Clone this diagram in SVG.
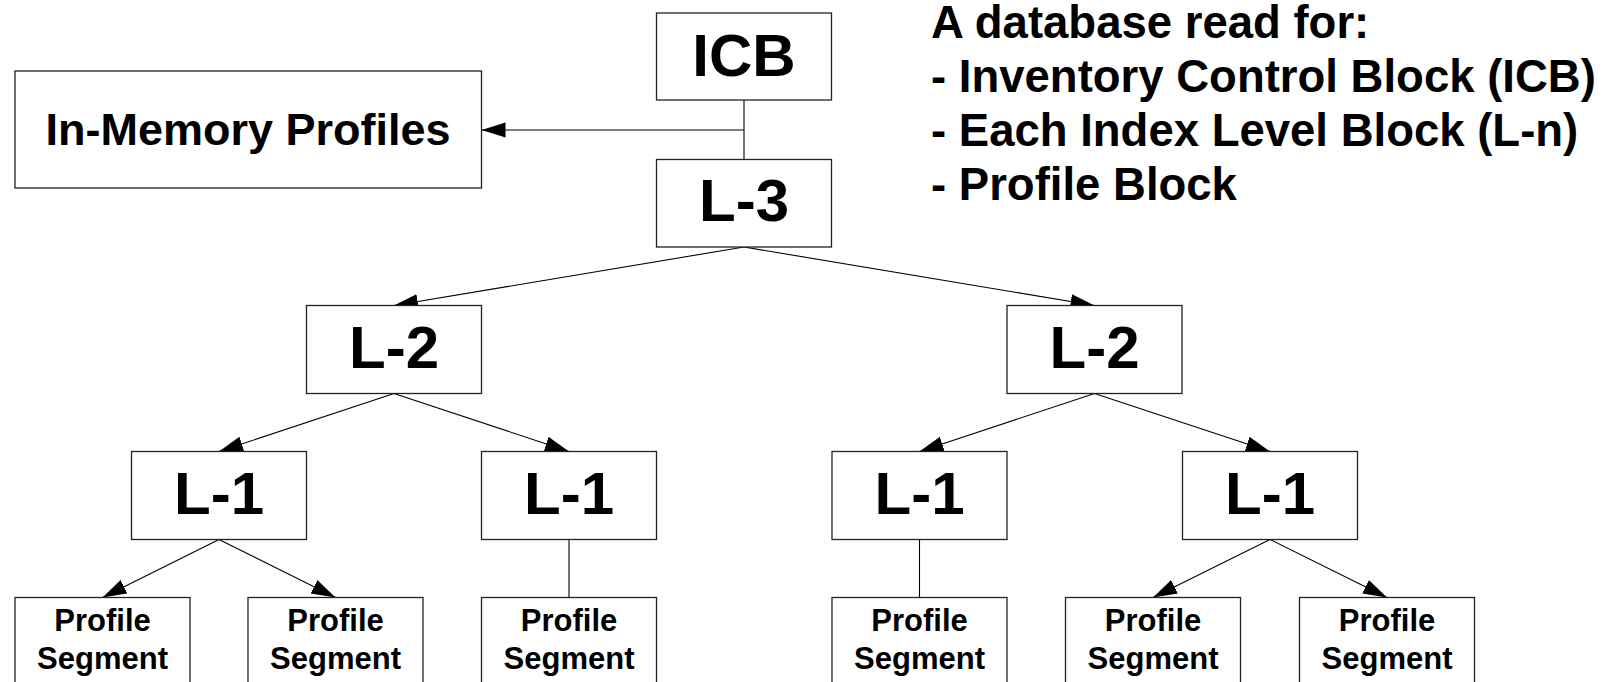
<svg xmlns="http://www.w3.org/2000/svg" width="1606" height="682" viewBox="0 0 1606 682">
<style>
.box{fill:#fff;stroke:#222;stroke-width:1.3}
.t{font-family:"Liberation Sans",Arial,sans-serif;font-weight:bold;fill:#000;text-anchor:middle}
.big{font-size:60px}
.mid{font-size:45px}
.small{font-size:31px}
.note{font-family:"Liberation Sans",Arial,sans-serif;font-weight:bold;font-size:45.5px;fill:#000}
.c{fill:none;stroke:#000;stroke-width:1.1}
.a{marker-end:url(#arr)}
</style>
<defs>
<marker id="arr" markerUnits="userSpaceOnUse" markerWidth="25" markerHeight="16" refX="24" refY="7.5" orient="auto">
<path d="M0,0 L24,7.5 L0,15 Z" fill="#000"/>
</marker>
</defs>
<rect width="1606" height="682" fill="#fff"/>
<g id="connectors">
<path class="c" d="M744,100 V159.5"/>
<path class="c a" d="M744,130 H481.5"/>
<path class="c a" d="M744,247 L394,305.5"/>
<path class="c a" d="M744,247 L1094.5,305.5"/>
<path class="c a" d="M394,393.5 L219,451.5"/>
<path class="c a" d="M394,393.5 L569,451.5"/>
<path class="c a" d="M1094.5,393.5 L919.5,451.5"/>
<path class="c a" d="M1094.5,393.5 L1270,451.5"/>
<path class="c a" d="M219,539.5 L102.5,597.5"/>
<path class="c a" d="M219,539.5 L335.5,597.5"/>
<path class="c" d="M569,539.5 V597.5"/>
<path class="c" d="M919.5,539.5 V597.5"/>
<path class="c a" d="M1270,539.5 L1153,597.5"/>
<path class="c a" d="M1270,539.5 L1387,597.5"/>
</g>
<g id="icb"><rect class="box" x="656.5" y="13" width="175" height="87"/><text class="t big" x="744" y="75.5">ICB</text></g>
<g id="inmem"><rect class="box" x="15" y="71" width="466.5" height="117"/><text class="t mid" x="248" y="145">In-Memory Profiles</text></g>
<g id="l3"><rect class="box" x="656.5" y="159.5" width="175" height="87.5"/><text class="t big" x="744" y="221">L-3</text></g>
<g id="l2a"><rect class="box" x="306.5" y="305.5" width="175" height="88"/><text class="t big" x="394" y="368">L-2</text></g>
<g id="l2b"><rect class="box" x="1007" y="305.5" width="175" height="88"/><text class="t big" x="1094.5" y="368">L-2</text></g>
<g id="l1a"><rect class="box" x="131.5" y="451.5" width="175" height="88"/><text class="t big" x="219" y="514">L-1</text></g>
<g id="l1b"><rect class="box" x="481.5" y="451.5" width="175" height="88"/><text class="t big" x="569" y="514">L-1</text></g>
<g id="l1c"><rect class="box" x="832" y="451.5" width="175" height="88"/><text class="t big" x="919.5" y="514">L-1</text></g>
<g id="l1d"><rect class="box" x="1182.5" y="451.5" width="175" height="88"/><text class="t big" x="1270" y="514">L-1</text></g>
<g id="p1"><rect class="box" x="15" y="597.5" width="175" height="100"/><text class="t small" x="102.5" y="631">Profile</text><text class="t small" x="102.5" y="668.5">Segment</text></g>
<g id="p2"><rect class="box" x="248" y="597.5" width="175" height="100"/><text class="t small" x="335.5" y="631">Profile</text><text class="t small" x="335.5" y="668.5">Segment</text></g>
<g id="p3"><rect class="box" x="481.5" y="597.5" width="175" height="100"/><text class="t small" x="569" y="631">Profile</text><text class="t small" x="569" y="668.5">Segment</text></g>
<g id="p4"><rect class="box" x="832" y="597.5" width="175" height="100"/><text class="t small" x="919.5" y="631">Profile</text><text class="t small" x="919.5" y="668.5">Segment</text></g>
<g id="p5"><rect class="box" x="1065.5" y="597.5" width="175" height="100"/><text class="t small" x="1153" y="631">Profile</text><text class="t small" x="1153" y="668.5">Segment</text></g>
<g id="p6"><rect class="box" x="1299.5" y="597.5" width="175" height="100"/><text class="t small" x="1387" y="631">Profile</text><text class="t small" x="1387" y="668.5">Segment</text></g>
<g id="note">
<text class="note" x="931" y="38">A database read for:</text>
<text class="note" x="931" y="92">- Inventory Control Block (ICB)</text>
<text class="note" x="931" y="146">- Each Index Level Block (L-n)</text>
<text class="note" x="931" y="200">- Profile Block</text>
</g>
</svg>
